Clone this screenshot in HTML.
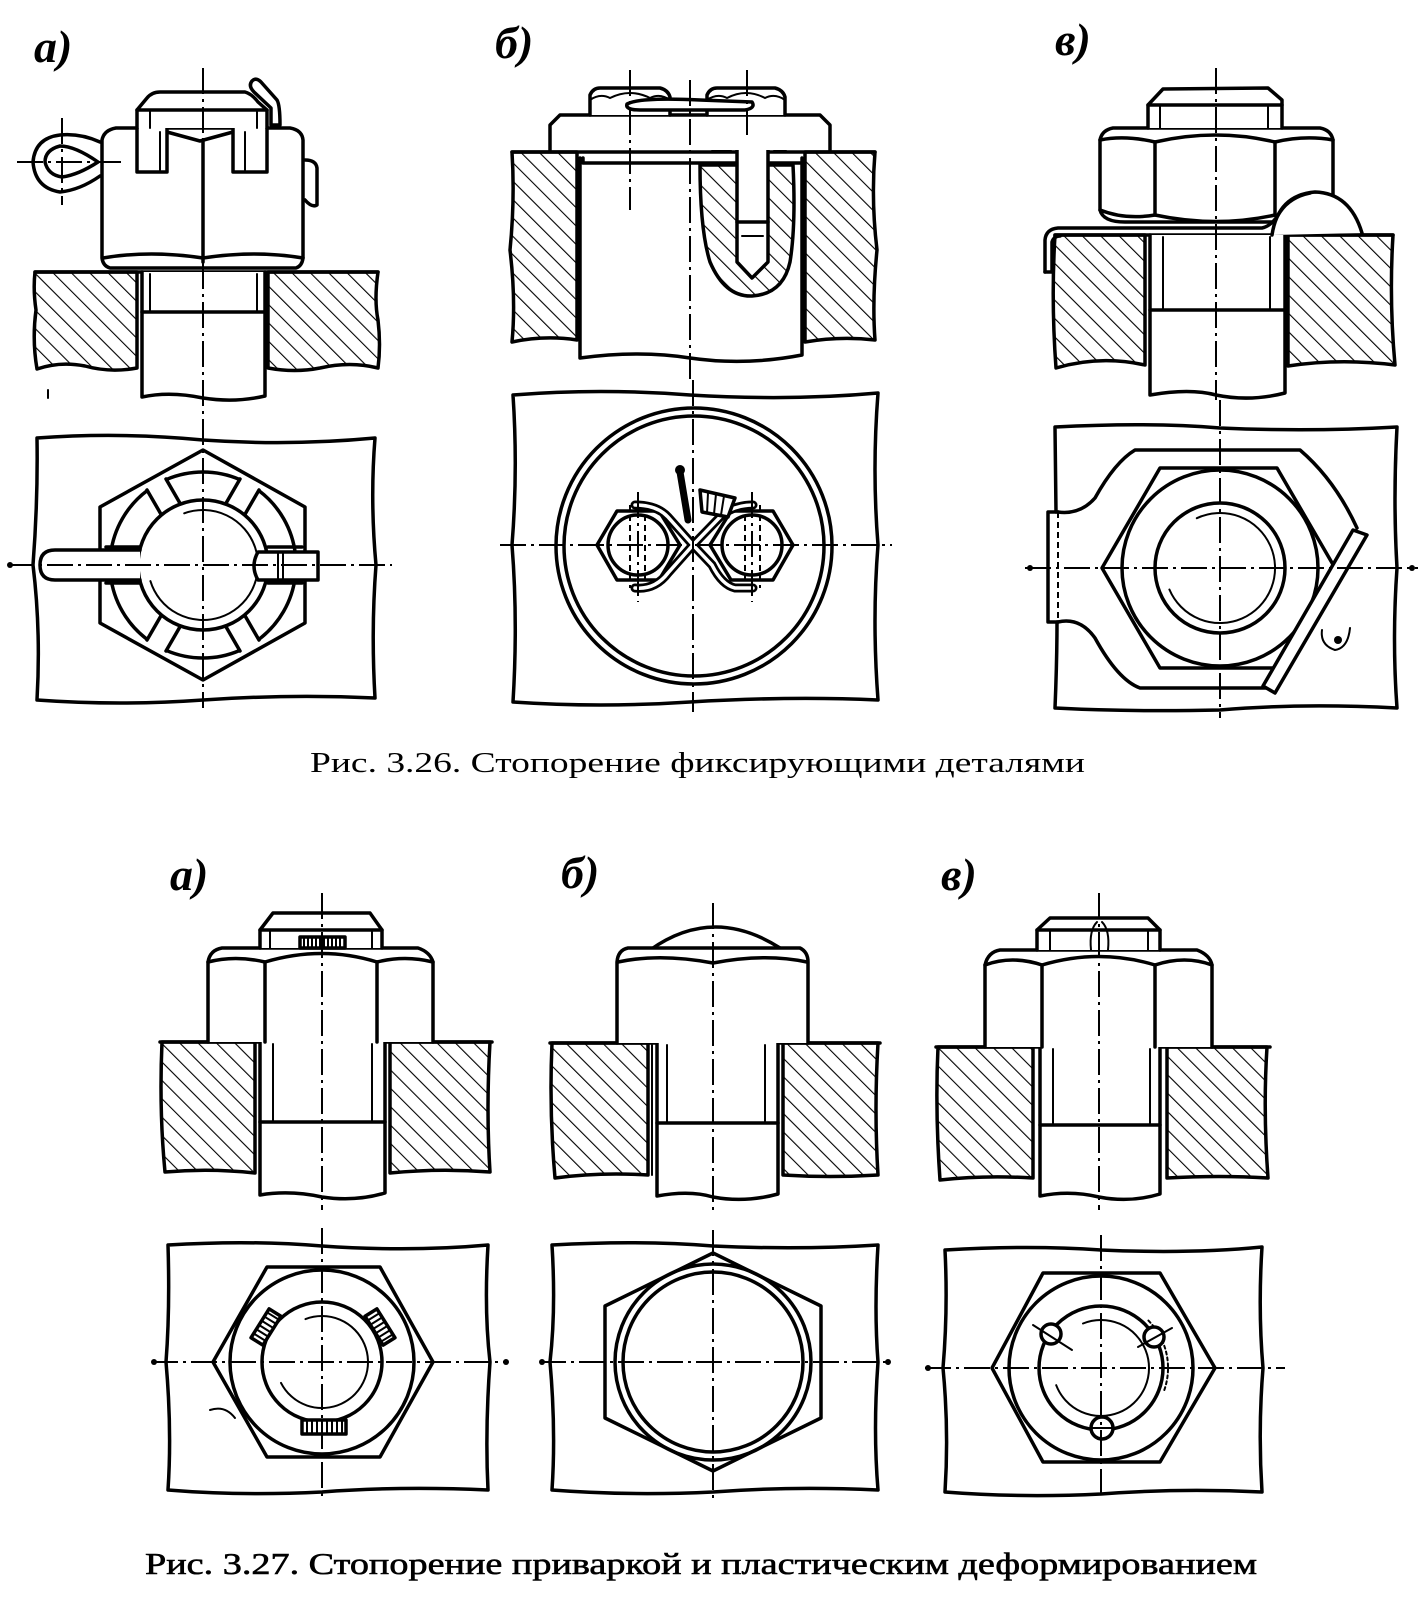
<!DOCTYPE html>
<html><head><meta charset="utf-8"><style>
html,body{margin:0;padding:0;background:#fff}
svg{display:block}
.o{fill:none;stroke:#000;stroke-width:3.5;stroke-linejoin:round;stroke-linecap:round}
.w{fill:#fff}
.t{fill:none;stroke:#000;stroke-width:2;stroke-linecap:round}
.ax{fill:none;stroke:#000;stroke-width:2;stroke-dasharray:26 5 3 5}
.dsh{fill:none;stroke:#000;stroke-width:2;stroke-dasharray:6 4}
.h{fill:url(#h);stroke:#000;stroke-width:3.5;stroke-linejoin:round}
.lb{font-family:"Liberation Serif",serif;font-style:italic;font-weight:bold;font-size:46px}
.cap{font-family:"Liberation Serif","DejaVu Serif",serif}
</style></head><body>
<svg width="1423" height="1604" viewBox="0 0 1423 1604" xmlns="http://www.w3.org/2000/svg">
<defs>
<pattern id="h" width="13" height="13" patternUnits="userSpaceOnUse" patternTransform="rotate(-45)">
<rect width="13" height="13" fill="#fff"/>
<line x1="0" y1="0" x2="0" y2="13" stroke="#000" stroke-width="2.2"/>
</pattern>
</defs>
<rect width="1423" height="1604" fill="#fff"/>

<!-- ================= 3.26 a) ================= -->
<text x="34" y="62" class="lb">а)</text>
<path class="h" d="M35,272 L137,272 L137,368 Q110,373 85,366 Q60,361 37,369 Q32,340 36,310 Q33,290 35,272 Z"/>
<path class="h" d="M268,272 L378,272 Q374,300 378,320 Q381,345 378,368 Q350,361 320,368 Q295,373 268,368 Z"/>
<line class="o" x1="35" y1="272" x2="378" y2="272"/>
<path class="o w" d="M142,272 L142,397 Q170,391 203,398 Q235,403 265,396 L265,272"/>
<line class="o" x1="142" y1="312" x2="265" y2="312"/>
<line class="t" x1="150" y1="274" x2="150" y2="312"/>
<line class="t" x1="257" y1="274" x2="257" y2="312"/>
<path class="o w" d="M102,140 Q104,130 116,128 L290,128 Q302,130 303,140 L303,258 Q302,266 296,268 L110,268 Q103,266 102,258 Z"/>
<path class="o" d="M103,258 Q150,250 203,258 Q255,250 303,258"/>
<path class="o" d="M167,132 L200,141 L233,132"/>
<line class="o" x1="203" y1="141" x2="203" y2="262"/>
<path class="o w" d="M137,128 L137,172 L167,172 L167,128"/>
<line class="t" x1="160" y1="132" x2="160" y2="170"/>
<path class="o w" d="M233,128 L233,172 L267,172 L267,128"/>
<line class="t" x1="245" y1="132" x2="245" y2="170"/>
<path class="o w" d="M137,128 L137,110 L147,98 Q152,92 160,92 L245,92 Q252,94 258,102 L267,110 L267,128"/>
<line class="o" x1="137" y1="110" x2="267" y2="110"/>
<line class="t" x1="150" y1="110" x2="150" y2="128"/>
<line class="t" x1="257" y1="110" x2="257" y2="128"/>
<path class="o w" stroke-width="3" d="M252,81 Q256,77 261,82 L277,100 Q280,105 280,125 L271,125 L271,108 L254,92 Q248,86 252,81 Z"/>
<path class="o" stroke-width="3" d="M305,160 Q316,160 317,168 L317,205 Q312,208 305,200"/>
<path class="o" d="M100,142 Q80,133 60,135 Q35,138 33,162 Q35,188 60,192 Q80,190 100,176"/>
<path class="o" stroke-width="3" d="M98,162 Q75,146 60,146 Q45,150 45,162 Q48,175 62,177 Q78,175 98,162 Z"/>
<line class="ax" x1="17" y1="162" x2="125" y2="162"/>
<line class="ax" x1="62" y1="118" x2="62" y2="205"/>
<line class="ax" x1="203" y1="68" x2="203" y2="708"/>
<line class="t" x1="48" y1="390" x2="48" y2="398"/>

<!-- 3.26 a) bottom view -->
<path class="o" d="M37,438 Q120,432 203,440 Q290,446 375,438 Q370,500 376,565 Q371,630 375,698 Q290,694 203,700 Q120,706 37,700 Q41,630 33,565 Q38,500 37,438 Z"/>
<polygon class="o" points="203,450 305,507 305,623 203,680 100,623 100,507"/>
<circle cx="203" cy="565" r="93" class="o" stroke-dasharray="75.4 22" stroke-dashoffset="86.4" style="stroke-linecap:butt"/>
<circle cx="203" cy="565" r="65" class="o"/>
<path class="t" stroke-width="2.5" d="M150.4,581.1 A55,55 0 1 0 184.2,513.3"/>
<g class="o" stroke-width="3">
<line x1="226" y1="626.8" x2="240" y2="651"/><line x1="245" y1="615.8" x2="259" y2="640"/>
<line x1="161" y1="615.8" x2="147" y2="640"/><line x1="180" y1="626.8" x2="166" y2="651"/>
<line x1="180" y1="503.2" x2="166" y2="479"/><line x1="161" y1="514.2" x2="147" y2="490"/>
<line x1="245" y1="514.2" x2="259" y2="490"/><line x1="226" y1="503.2" x2="240" y2="479"/>
<line x1="106" y1="547" x2="140" y2="547"/><line x1="106" y1="583" x2="140" y2="583"/>
<line x1="268" y1="547" x2="302" y2="547"/><line x1="268" y1="583" x2="302" y2="583"/>
</g>
<path class="o w" d="M140,550 L55,550 Q40,550 40,565 Q40,580 55,580 L140,580"/>
<path class="o w" d="M258,552 L318,552 L318,580 L258,580 Q250,566 258,552 Z"/>
<line class="t" x1="278" y1="553" x2="278" y2="579"/>
<line class="t" x1="283" y1="553" x2="283" y2="579"/>
<line class="ax" x1="8" y1="565" x2="392" y2="565"/>
<circle cx="10" cy="565" r="3"/>

<!-- ================= 3.26 б) ================= -->
<text x="495" y="58" class="lb">б)</text>
<path class="h" d="M512,152 L577,152 L577,340 Q545,335 512,342 Q516,300 510,250 Q515,200 512,152 Z"/>
<path class="h" d="M805,152 L875,152 Q871,200 877,250 Q872,300 875,340 Q840,336 805,342 Z"/>
<path class="o" d="M580,158 L580,358 Q640,350 690,358 Q745,366 802,355 L802,158"/>
<line class="o" x1="512" y1="152" x2="875" y2="152"/>
<path class="o" d="M583,158 L583,163 L800,163"/>
<path class="h" d="M700,165 Q700,230 710,262 Q725,297 752,296 Q783,294 790,262 Q796,225 793,165 Z"/>
<path class="o w" d="M737,140 L737,262 L752,278 L768,262 L768,140 Z"/>
<line class="o" x1="737" y1="222" x2="768" y2="222"/>
<line class="t" x1="742" y1="236" x2="763" y2="236"/>
<path class="h" stroke-width="2.5" d="M713,150 L718,123 L730,118 L730,150 Z"/>
<path class="h" stroke-width="2.5" d="M775,120 L782,128 L785,150 L775,150 Z"/>
<rect x="730" y="115" width="45" height="26" class="o w"/>
<path class="o w" d="M550,150 L550,125 L560,115 L820,115 L830,125 L830,150"/>
<path class="o w" d="M590,115 L590,95 Q593,88 600,88 L660,88 Q668,90 670,97 L670,115"/>
<path class="t" stroke-width="2.5" d="M590,100 Q600,93 610,98 Q630,88 650,98 Q660,93 670,100"/>
<path class="o w" d="M707,115 L707,95 Q710,88 717,88 L775,88 Q783,90 785,97 L785,115"/>
<path class="t" stroke-width="2.5" d="M707,100 Q717,93 727,98 Q746,88 765,98 Q775,93 785,100"/>
<path class="o w" stroke-width="2.5" d="M627,104 Q640,97 700,100 L752,102 Q756,108 745,110 L640,110 Q625,110 627,104 Z"/>
<line class="ax" x1="630" y1="70" x2="630" y2="210"/>
<line class="ax" x1="747" y1="70" x2="747" y2="135"/>
<line class="ax" x1="690" y1="80" x2="690" y2="380"/>

<!-- 3.26 б) bottom view -->
<path class="o" d="M513,395 Q600,388 690,395 Q790,401 878,393 Q872,470 878,545 Q872,620 878,700 Q790,696 690,702 Q600,708 513,702 Q518,620 512,545 Q518,470 513,395 Z"/>
<circle cx="694" cy="546" r="138" class="o"/>
<circle cx="694" cy="546" r="130" class="o" stroke-width="3"/>
<polygon class="o" points="597,545 617,511 659,511 680,545 659,580 617,580"/>
<polygon class="o" points="710,545 731,511 773,511 793,545 773,580 731,580"/>
<circle cx="638" cy="545" r="30" class="o" stroke-width="3"/>
<circle cx="752" cy="545" r="30" class="o" stroke-width="3"/>
<line class="dsh" x1="630" y1="505" x2="630" y2="588"/>
<line class="dsh" x1="645" y1="505" x2="645" y2="588"/>
<line class="dsh" x1="745" y1="505" x2="745" y2="588"/>
<line class="dsh" x1="760" y1="505" x2="760" y2="588"/>
<g fill="none" stroke-linecap="round">
<path d="M693,545 L668,517 Q657,505 635,505 M635,588 Q655,590 668,573 L693,545 L722,515 Q735,505 753,505 M753,588 L735,588 Q722,585 712,565 L693,545" stroke="#000" stroke-width="9"/>
<path d="M693,545 L668,517 Q657,505 635,505 M635,588 Q655,590 668,573 L693,545 L722,515 Q735,505 753,505 M753,588 L735,588 Q722,585 712,565 L693,545" stroke="#fff" stroke-width="3.5"/>
</g>
<line x1="688" y1="520" x2="680" y2="472" stroke="#000" stroke-width="7" stroke-linecap="round"/>
<circle cx="680" cy="470" r="5"/>
<path class="o w" stroke-width="3" d="M700,490 L735,498 L728,517 L702,512 Z"/>
<g class="t"><line x1="708" y1="493" x2="707" y2="513"/><line x1="716" y1="494" x2="714" y2="514"/><line x1="724" y1="496" x2="721" y2="515"/></g>
<line class="ax" x1="500" y1="545" x2="892" y2="545"/>
<line class="ax" x1="693" y1="380" x2="693" y2="712"/>
<line class="ax" x1="638" y1="492" x2="638" y2="602"/>
<line class="ax" x1="752" y1="492" x2="752" y2="602"/>

<!-- ================= 3.26 в) ================= -->
<text x="1055" y="55" class="lb">в)</text>
<path class="h" d="M1055,235 L1145,235 L1145,365 Q1100,355 1056,368 Q1051,300 1055,235 Z"/>
<path class="h" d="M1288,235 L1393,235 Q1389,300 1395,365 Q1340,358 1288,366 Z"/>
<line class="o" x1="1055" y1="235" x2="1393" y2="235"/>
<path class="o w" d="M1150,235 L1150,395 Q1190,388 1216,395 Q1250,402 1285,393 L1285,235"/>
<line class="o" x1="1150" y1="310" x2="1285" y2="310"/>
<line class="t" x1="1163" y1="237" x2="1163" y2="310"/>
<line class="t" x1="1270" y1="237" x2="1270" y2="310"/>
<path class="o w" d="M1100,140 Q1102,130 1113,128 L1320,128 Q1331,130 1333,140 L1333,210 Q1330,222 1310,222 L1125,222 Q1103,222 1100,210 Z"/>
<path class="o" d="M1100,140 Q1125,135 1155,142 Q1216,128 1275,142 Q1305,135 1333,140"/>
<path class="o" d="M1100,210 Q1125,220 1155,215 Q1216,228 1275,215 Q1305,220 1333,210"/>
<line class="o" x1="1155" y1="142" x2="1155" y2="215"/>
<line class="o" x1="1275" y1="142" x2="1275" y2="215"/>
<path class="o w" d="M1148,128 L1148,105 L1163,89 L1268,88 L1282,100 L1282,128"/>
<line class="o" x1="1148" y1="105" x2="1282" y2="105"/>
<line class="t" x1="1160" y1="105" x2="1160" y2="128"/>
<line class="t" x1="1268" y1="105" x2="1268" y2="128"/>
<path class="o w" d="M1272,235 Q1278,195 1315,192 Q1350,193 1362,233"/>
<path class="o" stroke-width="3" d="M1045,272 L1045,240 Q1046,229 1058,228 L1262,228 Q1272,226 1280,212 Q1290,197 1310,193"/>
<path class="o" stroke-width="3" d="M1052,272 L1052,242 Q1054,236 1060,236 M1045,272 L1052,272"/>
<line class="ax" x1="1216" y1="68" x2="1216" y2="400"/>

<!-- 3.26 в) bottom view -->
<path class="o" d="M1056,512 L1055,427 Q1150,422 1220,428 Q1310,432 1397,427 Q1393,500 1397,568 Q1392,640 1397,708 Q1300,703 1220,710 Q1130,712 1055,708 Q1057,660 1057,622"/>
<path class="o" d="M1058,512 L1048,512 L1048,622 L1058,622"/>
<line class="dsh" x1="1058" y1="512" x2="1058" y2="622"/>
<path class="o" d="M1058,512 Q1080,515 1095,498 Q1115,462 1135,450 L1300,450 Q1335,480 1357,528"/>
<path class="o" d="M1058,622 Q1080,617 1095,638 Q1118,680 1140,688 L1270,688"/>
<polygon class="o" points="1102,568 1160,468 1277,468 1335,568 1277,668 1160,668"/>
<circle cx="1220" cy="568" r="98" class="o"/>
<circle cx="1220" cy="568" r="65" class="o"/>
<path class="t" stroke-width="2.5" d="M1169.4,589.5 A55,55 0 1 0 1196.8,518.2"/>
<polygon class="o w" stroke-width="3" points="1353,530 1367,535 1275,693 1263,686"/>
<path class="t" stroke-width="3" d="M1322,630 Q1320,645 1335,650 Q1348,648 1350,628"/>
<circle cx="1338" cy="640" r="4"/>
<line class="ax" x1="1025" y1="568" x2="1418" y2="568"/>
<circle cx="1030" cy="568" r="3"/><circle cx="1412" cy="568" r="3"/>
<line class="ax" x1="1220" y1="400" x2="1220" y2="718"/>

<text x="310" y="772" class="cap" font-size="28" textLength="775" lengthAdjust="spacingAndGlyphs">Рис. 3.26. Стопорение фиксирующими деталями</text>

<!-- ================= 3.27 а) ================= -->
<text x="170" y="890" class="lb">а)</text>
<path class="h" d="M162,1042 L255,1042 L255,1173 Q210,1168 165,1172 Q159,1110 162,1042 Z"/>
<path class="h" d="M390,1042 L490,1042 Q486,1110 490,1172 Q440,1168 390,1173 Z"/>
<line class="o" x1="160" y1="1042" x2="492" y2="1042"/>
<path class="o w" d="M260,1042 L260,1195 Q290,1190 322,1197 Q355,1202 385,1193 L385,1042"/>
<line class="o" x1="260" y1="1122" x2="385" y2="1122"/>
<line class="t" x1="273" y1="1044" x2="273" y2="1122"/>
<line class="t" x1="372" y1="1044" x2="372" y2="1122"/>
<path class="o w" d="M208,1042 L208,962 Q210,950 222,948 L418,948 Q430,952 433,962 L433,1042"/>
<path class="o" d="M208,962 Q235,955 265,962 Q322,945 377,962 Q405,955 433,962"/>
<line class="o" x1="265" y1="962" x2="265" y2="1042"/>
<line class="o" x1="377" y1="962" x2="377" y2="1042"/>
<path class="o w" d="M260,948 L260,930 L273,913 L370,913 L382,930 L382,948"/>
<line class="o" x1="260" y1="930" x2="382" y2="930"/>
<line class="t" x1="270" y1="930" x2="270" y2="948"/>
<line class="t" x1="372" y1="930" x2="372" y2="948"/>
<rect x="300" y="937" width="45" height="11" class="o w" stroke-width="2"/>
<path class="t" stroke-width="1.5" d="M304,938v10M308,938v10M312,938v10M316,938v10M320,938v10M324,938v10M328,938v10M332,938v10M336,938v10M340,938v10"/>
<line class="ax" x1="322" y1="893" x2="322" y2="1210"/>

<path class="o" d="M168,1245 Q250,1240 322,1246 Q410,1252 488,1245 Q484,1310 490,1362 Q485,1430 488,1490 Q400,1486 322,1492 Q240,1496 168,1490 Q172,1430 166,1362 Q170,1310 168,1245 Z"/>
<polygon class="o" points="213,1362 267,1267 380,1267 433,1362 380,1457 267,1457"/>
<circle cx="322" cy="1362" r="92" class="o"/>
<circle cx="322" cy="1362" r="60" class="o"/>
<path class="t" stroke-width="2.5" d="M281,1382.9 A46,46 0 1 0 305.5,1319.1"/>
<g transform="translate(266,1327) rotate(-58)"><rect x="-17" y="-7" width="34" height="14" class="o w" stroke-width="2.5"/><path class="t" stroke-width="1.5" d="M-12,-6v12M-7,-6v12M-2,-6v12M3,-6v12M8,-6v12M13,-6v12"/></g>
<g transform="translate(380,1327) rotate(58)"><rect x="-17" y="-7" width="34" height="14" class="o w" stroke-width="2.5"/><path class="t" stroke-width="1.5" d="M-12,-6v12M-7,-6v12M-2,-6v12M3,-6v12M8,-6v12M13,-6v12"/></g>
<g transform="translate(324,1427)"><rect x="-22" y="-7" width="44" height="14" class="o w" stroke-width="2.5"/><path class="t" stroke-width="1.5" d="M-17,-6v12M-12,-6v12M-7,-6v12M-2,-6v12M3,-6v12M8,-6v12M13,-6v12M18,-6v12"/></g>
<path class="t" stroke-width="3" d="M210,1410 Q225,1405 235,1418"/>
<line class="ax" x1="152" y1="1362" x2="508" y2="1362"/>
<circle cx="154" cy="1362" r="3"/><circle cx="506" cy="1362" r="3"/>
<line class="ax" x1="322" y1="1228" x2="322" y2="1500"/>

<!-- ================= 3.27 б) ================= -->
<text x="561" y="888" class="lb">б)</text>
<path class="h" d="M552,1043 L648,1043 L648,1175 Q600,1172 555,1178 Q549,1110 552,1043 Z"/>
<path class="h" d="M783,1043 L878,1043 Q874,1110 878,1175 Q830,1178 783,1175 Z"/>
<line class="o" x1="550" y1="1043" x2="880" y2="1043"/>
<line class="t" x1="652" y1="1045" x2="652" y2="1175"/>
<line class="t" x1="783" y1="1045" x2="783" y2="1175"/>
<path class="o w" d="M657,1043 L657,1196 Q690,1190 713,1197 Q745,1203 778,1194 L778,1043"/>
<line class="o" x1="657" y1="1123" x2="778" y2="1123"/>
<line class="t" x1="667" y1="1045" x2="667" y2="1123"/>
<line class="t" x1="765" y1="1045" x2="765" y2="1123"/>
<path class="o w" d="M650,950 Q713,905 780,948"/>
<path class="o w" d="M617,1043 L617,962 Q618,950 628,948 L800,948 Q808,952 808,962 L808,1043"/>
<path class="o" d="M618,962 Q660,953 713,963 Q765,953 807,962"/>
<line class="ax" x1="713" y1="903" x2="713" y2="1210"/>

<path class="o" d="M552,1245 Q640,1240 713,1246 Q800,1250 878,1245 Q874,1310 878,1362 Q873,1430 878,1490 Q790,1486 713,1492 Q630,1496 552,1490 Q556,1430 550,1362 Q556,1310 552,1245 Z"/>
<polygon class="o" points="713,1253 821,1306 821,1418 713,1471 605,1418 605,1306"/>
<circle cx="713" cy="1362" r="98" class="o"/>
<circle cx="713" cy="1362" r="90" class="o"/>
<line class="ax" x1="540" y1="1362" x2="890" y2="1362"/>
<circle cx="542" cy="1362" r="3"/><circle cx="888" cy="1362" r="3"/>
<line class="ax" x1="713" y1="1230" x2="713" y2="1500"/>

<!-- ================= 3.27 в) ================= -->
<text x="941" y="890" class="lb">в)</text>
<path class="h" d="M938,1047 L1033,1047 L1033,1178 Q985,1175 940,1180 Q935,1110 938,1047 Z"/>
<path class="h" d="M1167,1047 L1267,1047 Q1263,1110 1268,1178 Q1220,1175 1167,1178 Z"/>
<line class="o" x1="936" y1="1047" x2="1270" y2="1047"/>
<path class="o w" d="M1040,1047 L1040,1196 Q1070,1190 1099,1197 Q1130,1203 1160,1194 L1160,1047"/>
<line class="o" x1="1040" y1="1125" x2="1160" y2="1125"/>
<line class="t" x1="1053" y1="1049" x2="1053" y2="1125"/>
<line class="t" x1="1150" y1="1049" x2="1150" y2="1125"/>
<path class="o w" d="M985,1047 L985,965 Q988,952 1000,950 L1197,950 Q1210,955 1212,965 L1212,1047"/>
<path class="o" d="M985,965 Q1012,955 1042,965 Q1099,948 1155,965 Q1185,955 1212,965"/>
<line class="o" x1="1042" y1="965" x2="1042" y2="1047"/>
<line class="o" x1="1155" y1="965" x2="1155" y2="1047"/>
<path class="o w" d="M1037,950 L1037,930 L1050,918 L1148,918 L1160,930 L1160,950"/>
<line class="o" x1="1037" y1="930" x2="1160" y2="930"/>
<line class="t" x1="1050" y1="930" x2="1050" y2="950"/>
<line class="t" x1="1148" y1="930" x2="1148" y2="950"/>
<path class="t" stroke-width="2.5" d="M1091,950 Q1089,930 1097,922 M1108,950 Q1110,930 1102,922"/>
<line class="ax" x1="1099" y1="893" x2="1099" y2="1210"/>

<path class="o" d="M945,1250 Q1030,1245 1101,1250 Q1190,1254 1262,1247 Q1258,1310 1263,1368 Q1258,1430 1262,1492 Q1180,1488 1101,1494 Q1020,1498 945,1492 Q949,1430 943,1368 Q948,1310 945,1250 Z"/>
<polygon class="o" points="992,1368 1043,1273 1160,1273 1215,1368 1160,1462 1043,1462"/>
<circle cx="1101" cy="1368" r="92" class="o"/>
<circle cx="1101" cy="1368" r="62" class="o"/>
<path class="t" stroke-width="2.5" d="M1056.2,1385.2 A48,48 0 1 0 1083,1323.5"/>
<path class="t" stroke-dasharray="3 3" d="M1148.4,1320.6 A67,67 0 0 1 1164,1390.9"/>
<circle cx="1051" cy="1334" r="10" class="o w" stroke-width="3"/>
<circle cx="1154" cy="1337" r="10" class="o w" stroke-width="3"/>
<circle cx="1102" cy="1428" r="11" class="o w" stroke-width="3"/>
<line class="t" x1="1033" y1="1325" x2="1072" y2="1350"/>
<line class="t" x1="1138" y1="1347" x2="1172" y2="1328"/>
<line class="t" x1="1090" y1="1428" x2="1114" y2="1428"/>
<line class="ax" x1="925" y1="1368" x2="1285" y2="1368"/>
<circle cx="928" cy="1368" r="3"/>
<line class="ax" x1="1101" y1="1235" x2="1101" y2="1500"/>

<text x="145" y="1574" class="cap" font-size="31" stroke="#000" stroke-width="0.6" textLength="1112" lengthAdjust="spacingAndGlyphs">Рис. 3.27. Стопорение приваркой и пластическим деформированием</text>
</svg>
</body></html>
